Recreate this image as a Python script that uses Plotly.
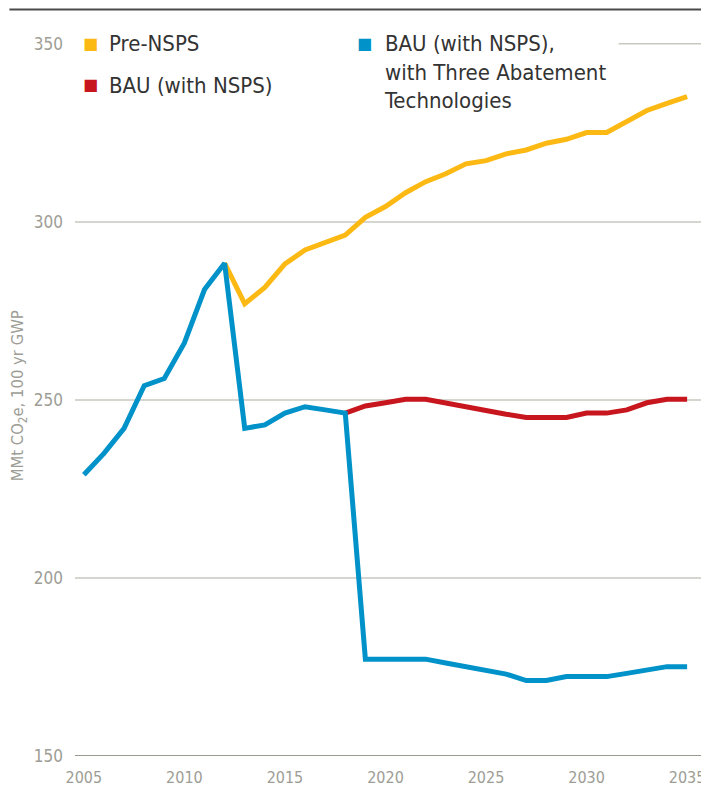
import plotly.graph_objects as go

years_hist = [2005, 2006, 2007, 2008, 2009, 2010, 2011, 2012]
hist_vals = [229, 235, 242, 254, 256, 266, 281, 288.4]

years_pre = list(range(2012, 2036))
pre_nsps = [288.4, 277, 281.6, 288.2, 292.1, 294.2, 296.3, 301.3, 304.3, 308.2, 311.3, 313.5,
            316.3, 317.2, 319.1, 320.2, 322.1, 323.2, 325.1, 325.1, 328.2, 331.3, 333.3, 335.2]

years_bau = list(range(2018, 2036))
bau_nsps = [246.3, 248.3, 249.2, 250.2, 250.2, 249.1, 248, 247, 246, 245.1, 245.1, 245.1,
            246.3, 246.3, 247.2, 249.2, 250.2, 250.2]

years_abate = list(range(2012, 2036))
bau_abate = [288.4, 242, 243, 246.3, 248.1, 247.2, 246.3, 177.2, 177.2, 177.2, 177.2, 176.1,
             175, 174, 173, 171.2, 171.2, 172.3, 172.3, 172.3, 173.2, 174.2, 175.1, 175.1]

series_names = ["Pre-NSPS", "BAU (with NSPS)", "BAU (with NSPS),<br>with Three Abatement<br>Technologies"]
colors = ["#FDB913", "#C8161E", "#0092C8"]

ytick_vals = [150, 200, 250, 300, 350]
xtick_vals = [2005, 2010, 2015, 2020, 2025, 2030, 2035]

FONT = "DejaVu Sans"
GRAY = "#9d9d96"


def cond(s):
    return '<span style="font-stretch:condensed">' + s + '</span>'


fig = go.Figure()
lw = 5
fig.add_trace(go.Scatter(x=years_pre, y=pre_nsps, mode="lines",
                         line=dict(color=colors[0], width=lw), showlegend=False))
fig.add_trace(go.Scatter(x=years_bau, y=bau_nsps, mode="lines",
                         line=dict(color=colors[1], width=lw), showlegend=False))
fig.add_trace(go.Scatter(x=years_hist + years_abate[1:], y=hist_vals + bau_abate[1:], mode="lines",
                         line=dict(color=colors[2], width=lw), showlegend=False))

OFF = 8  # page body margin
W, H = 709, 804
L, R, T, B = 75 - OFF, 12, 12, 56
pw, ph = W - L - R, H - T - B
xr = [2004.56, 2035.69]
yr = [150, 356.7]


def px_x(px):
    return (px - OFF - L) / pw


def px_y(py):
    return (H - B - (py - OFF)) / ph


shapes = []
for v in ytick_vals:
    if v == 150:
        shapes.append(dict(type="line", xref="paper", yref="y", x0=0, x1=1, y0=v, y1=v,
                           line=dict(color="#9a9a92", width=2), layer="below"))
    elif v == 350:
        shapes.append(dict(type="line", xref="paper", yref="y", x0=px_x(622), x1=1, y0=v, y1=v,
                           line=dict(color="#c8c8c2", width=1.5), layer="below"))
    else:
        shapes.append(dict(type="line", xref="paper", yref="y", x0=0, x1=1, y0=v, y1=v,
                           line=dict(color="#c8c8c2", width=1.5), layer="below"))
# top rule
shapes.append(dict(type="line", xref="paper", yref="paper", x0=px_x(9), x1=px_x(720),
                   y0=px_y(9.5), y1=px_y(9.5), line=dict(color="#4a4a4a", width=2)))

annotations = []
sq_pos = [(91, 43), (91, 85), (366, 43)]
tx_pos = [(107, 29), (107, 71), (384, 29)]
for (sx, sy), (tx, ty), name, col in zip(sq_pos, tx_pos, series_names, colors):
    annotations.append(dict(xref="paper", yref="paper", x=px_x(sx), y=px_y(sy),
                            text="■", showarrow=False, xanchor="center", yanchor="middle",
                            font=dict(size=16, color=col, family="DejaVu Sans")))
    annotations.append(dict(xref="paper", yref="paper", x=px_x(tx), y=px_y(ty),
                            text="<br>".join(cond(p) for p in name.split("<br>")),
                            showarrow=False, xanchor="left", yanchor="top", align="left",
                            font=dict(size=22, color="#333333", family=FONT)))
annotations.append(dict(xref="paper", yref="paper", x=px_x(18), y=px_y(396),
                        text=cond("MMt CO") + cond("<sub>2</sub>") + cond("e, 100 yr GWP"),
                        textangle=-90, showarrow=False,
                        xanchor="center", yanchor="middle",
                        font=dict(size=16.5, color=GRAY, family=FONT)))

fig.update_layout(
    width=W, height=H,
    margin=dict(l=L, r=R, t=T, b=B),
    paper_bgcolor="white", plot_bgcolor="white",
    shapes=shapes, annotations=annotations,
    xaxis=dict(range=xr, tickvals=xtick_vals, ticktext=[cond(str(v)) for v in xtick_vals],
               showgrid=False, zeroline=False, showline=False,
               ticks="", ticklabelstandoff=10,
               tickfont=dict(size=16, color=GRAY, family=FONT)),
    yaxis=dict(range=yr, tickvals=ytick_vals, ticktext=[cond(str(v)) for v in ytick_vals],
               showgrid=False, zeroline=False, showline=False,
               ticks="", ticklabelstandoff=11,
               tickfont=dict(size=17, color=GRAY, family=FONT)),
)

fig.write_html("out.html")
